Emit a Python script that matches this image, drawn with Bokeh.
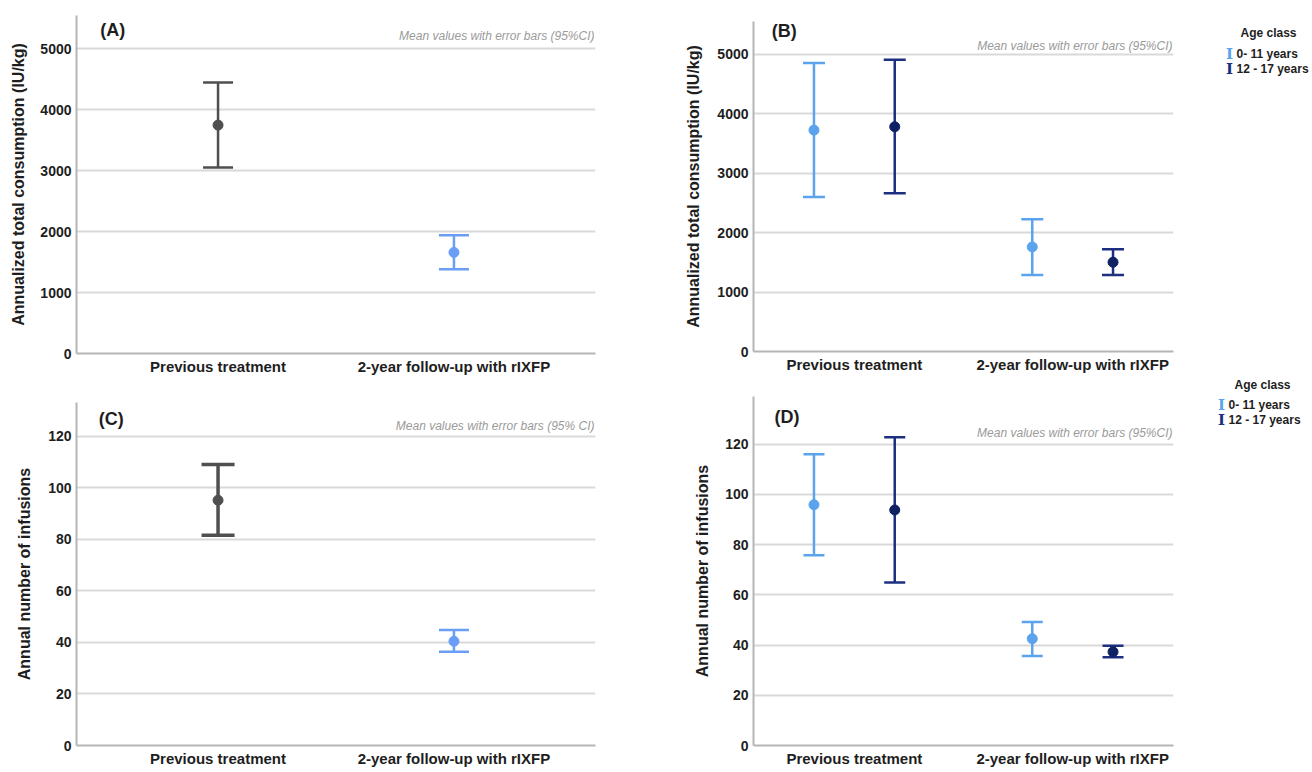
from bokeh.plotting import figure
from bokeh.models import Whisker, TeeHead, ColumnDataSource, FixedTicker, Range1d, Label
from bokeh.layouts import column, row
from bokeh.core.properties import value
from bokeh.embed import file_html
from bokeh.resources import INLINE

# ---------------- data ----------------
categories = ["Previous treatment", "2-year follow-up with rIXFP"]
age_classes = ["0- 11 years", "12 - 17 years"]

# Panel A: annualized total consumption (IU/kg), all patients
a_mean = [3750, 1660]
a_lower = [3055, 1385]
a_upper = [4450, 1940]

# Panel B: by age class  [previous, follow-up]
b_young_mean = [3723, 1758]
b_young_lower = [2598, 1288]
b_young_upper = [4854, 2223]
b_old_mean = [3779, 1501]
b_old_lower = [2660, 1288]
b_old_upper = [4905, 1719]

# Panel C: annual number of infusions, all patients
c_mean = [95.1, 40.4]
c_lower = [81.5, 36.4]
c_upper = [109.0, 44.8]

# Panel D: by age class
d_young_mean = [95.9, 42.5]
d_young_lower = [75.8, 35.6]
d_young_upper = [116.0, 49.2]
d_old_mean = [93.8, 37.3]
d_old_lower = [64.9, 35.1]
d_old_upper = [122.8, 39.7]

consumption_ticks = [0, 1000, 2000, 3000, 4000, 5000]
infusion_ticks = [0, 20, 40, 60, 80, 100, 120]

# ---------------- style ----------------
FONT = "Liberation Sans"
GREY = "#4f4f4f"
BLUE_A = "#6a9ef6"
LIGHT = "#5ba3ec"
DARK = "#1c2f80"
DARK_PT = "#0f2163"
SUBTITLE = "Mean values with error bars (95%CI)"
SUBTITLE_C = "Mean values with error bars (95% CI)"


def make_fig(origin, size, frame, xr, ymax, ticks, ylabel, lab_standoff):
    ox, oy = origin
    w, h = size
    L, T, R, B = frame
    p = figure(width=w, height=h, x_range=Range1d(*xr), y_range=Range1d(0, ymax),
               output_backend="svg", toolbar_location=None,
               min_border_left=L - ox, min_border_right=ox + w - R,
               min_border_top=T - oy, min_border_bottom=oy + h - B,
               outline_line_color=None, background_fill_color="white",
               border_fill_color="white")
    p.xgrid.visible = False
    p.ygrid.grid_line_color = "#d9d9d9"
    p.ygrid.grid_line_width = 2
    p.yaxis.ticker = FixedTicker(ticks=ticks)
    p.xaxis.ticker = FixedTicker(ticks=[1, 2])
    p.xaxis.major_label_overrides = {1: categories[0], 2: categories[1]}
    for ax in (p.xaxis[0], p.yaxis[0]):
        ax.axis_line_color = "#b5b5b5"
        ax.axis_line_width = 2
        ax.major_tick_line_color = None
        ax.minor_tick_line_color = None
        ax.major_tick_out = 0
        ax.major_tick_in = 0
        ax.minor_tick_out = 0
        ax.major_label_text_font = FONT
        ax.major_label_text_font_style = "bold"
        ax.major_label_text_font_size = "14px"
        ax.major_label_text_color = "#1e1e1e"
        ax.major_label_standoff = 5
    p.xaxis.major_label_text_font_size = "15px"
    p.xaxis.major_label_standoff = 4
    p.xaxis.axis_label_standoff = 0
    p.yaxis.axis_label = ylabel
    p.yaxis.axis_label_text_font = FONT
    p.yaxis.axis_label_text_font_style = "bold"
    p.yaxis.axis_label_text_font_size = "16px"
    p.yaxis.axis_label_text_color = "#1e1e1e"
    p.yaxis.axis_label_standoff = lab_standoff
    p._ref = (frame, xr, ymax)
    return p


def add_errbar(p, x, mean, lo, hi, color, pt_color, lw, cap, size):
    for i in range(len(x)):
        src = ColumnDataSource(dict(base=[x[i]], lower=[lo[i]], upper=[hi[i]]))
        p.add_layout(Whisker(source=src, base="base", lower="lower", upper="upper",
                             dimension="height", line_color=color, line_width=lw,
                             upper_head=TeeHead(size=cap, line_color=color, line_width=lw),
                             lower_head=TeeHead(size=cap, line_color=color, line_width=lw)))
    p.scatter(x=x, y=mean, size=size, color=pt_color)


def pos_label(p, ix, iy, text, size, style="bold", color="#1e1e1e", align="left"):
    # place a label at a picture position, converted into the panel's data space
    (L, T, R, B), (x0, x1), ymax = p._ref
    x = x0 + (ix - L) / (R - L) * (x1 - x0)
    y = (B - iy) / (B - T) * ymax
    p.add_layout(Label(x=x, y=y, text=text, text_font=FONT, text_font_size=size,
                       text_font_style=style, text_color=color, text_align=align,
                       text_baseline="middle"))


# ---------------- panel A ----------------
fA = (73, 15, 595, 353)
pA = make_fig((0, 0), (630, 382), fA, (0.4, 2.6), 5550, consumption_ticks,
              "Annualized total consumption (IU/kg)", 10)
add_errbar(pA, [1], a_mean[:1], a_lower[:1], a_upper[:1], GREY, GREY, 2.5, 30, 10)
add_errbar(pA, [2], a_mean[1:], a_lower[1:], a_upper[1:], BLUE_A, BLUE_A, 2.5, 30, 10)
pos_label(pA, 97, 29, "(A)", "18px")
pos_label(pA, 594, 35, SUBTITLE, "12px", style="italic", color="#9a9a9a", align="right")

# ---------------- panel B ----------------
fB = (753, 21, 1188, 351)
pB = make_fig((630, 0), (570, 382), fB, (0.538, 2.462), 5550, consumption_ticks,
              "Annualized total consumption (IU/kg)", 12)
off = 0.185
add_errbar(pB, [1 - off, 2 - off], b_young_mean, b_young_lower, b_young_upper,
           LIGHT, LIGHT, 2.5, 22, 10)
add_errbar(pB, [1 + off, 2 + off], b_old_mean, b_old_lower, b_old_upper,
           DARK, DARK_PT, 2.5, 22, 10)
pos_label(pB, 772, 30, "(B)", "18px")
pos_label(pB, 1187, 45, SUBTITLE, "12px", style="italic", color="#9a9a9a", align="right")

# ---------------- panel C ----------------
fC = (76, 402, 611, 745)
pC = make_fig((0, 382), (630, 390), fC, (0.4, 2.6), 133, infusion_ticks,
              "Annual number of infusions", 12)
add_errbar(pC, [1], c_mean[:1], c_lower[:1], c_upper[:1], GREY, GREY, 3.5, 33, 10)
add_errbar(pC, [2], c_mean[1:], c_lower[1:], c_upper[1:], BLUE_A, BLUE_A, 2.5, 30, 10)
pos_label(pC, 99, 418, "(C)", "18px")
pos_label(pC, 610, 425, SUBTITLE_C, "12px", style="italic", color="#9a9a9a", align="right")

# ---------------- panel D ----------------
fD = (751, 396, 1173, 745)
pD = make_fig((630, 382), (570, 390), fD, (0.538, 2.462), 139, infusion_ticks,
              "Annual number of infusions", 11)
add_errbar(pD, [1 - off, 2 - off], d_young_mean, d_young_lower, d_young_upper,
           LIGHT, LIGHT, 2.5, 21, 10)
add_errbar(pD, [1 + off, 2 + off], d_old_mean, d_old_lower, d_old_upper,
           DARK, DARK_PT, 2.5, 21, 10)
pos_label(pD, 772, 416, "(D)", "18px")
pos_label(pD, 1172, 432, SUBTITLE, "12px", style="italic", color="#9a9a9a", align="right")

# ---------------- legends (right-hand strip) ----------------
pL = figure(width=112, height=772, x_range=Range1d(1200, 1312), y_range=Range1d(772, 0),
            output_backend="svg", toolbar_location=None, min_border=0,
            x_axis_location=None, y_axis_location=None, outline_line_color=None,
            background_fill_color="white", border_fill_color="white")
pL.xgrid.visible = False
pL.ygrid.visible = False
for (tx, ty), icon_x, text_x, ys in [((1268, 32), 1229, 1236, [53, 68]),
                                     ((1262, 384), 1221, 1228, [404, 419])]:
    pL.text(x=[tx], y=[ty], text=["Age class"], text_font=value(FONT),
            text_font_style="bold", text_font_size="12px", text_color="#1e1e1e",
            text_align="center", text_baseline="middle")
    pL.text(x=[icon_x, icon_x], y=ys, text=["I", "I"], text_font=value("DejaVu Serif"),
            text_font_style="bold", text_font_size="15px", text_color=[LIGHT, DARK],
            text_align="center", text_baseline="middle")
    pL.text(x=[text_x, text_x], y=ys, text=age_classes, text_font=value(FONT),
            text_font_style="bold", text_font_size="12px", text_color="#1e1e1e",
            text_align="left", text_baseline="middle")

layout = row(column(pA, pC), column(pB, pD), pL)
open("out.html", "w").write(file_html(layout, INLINE))
